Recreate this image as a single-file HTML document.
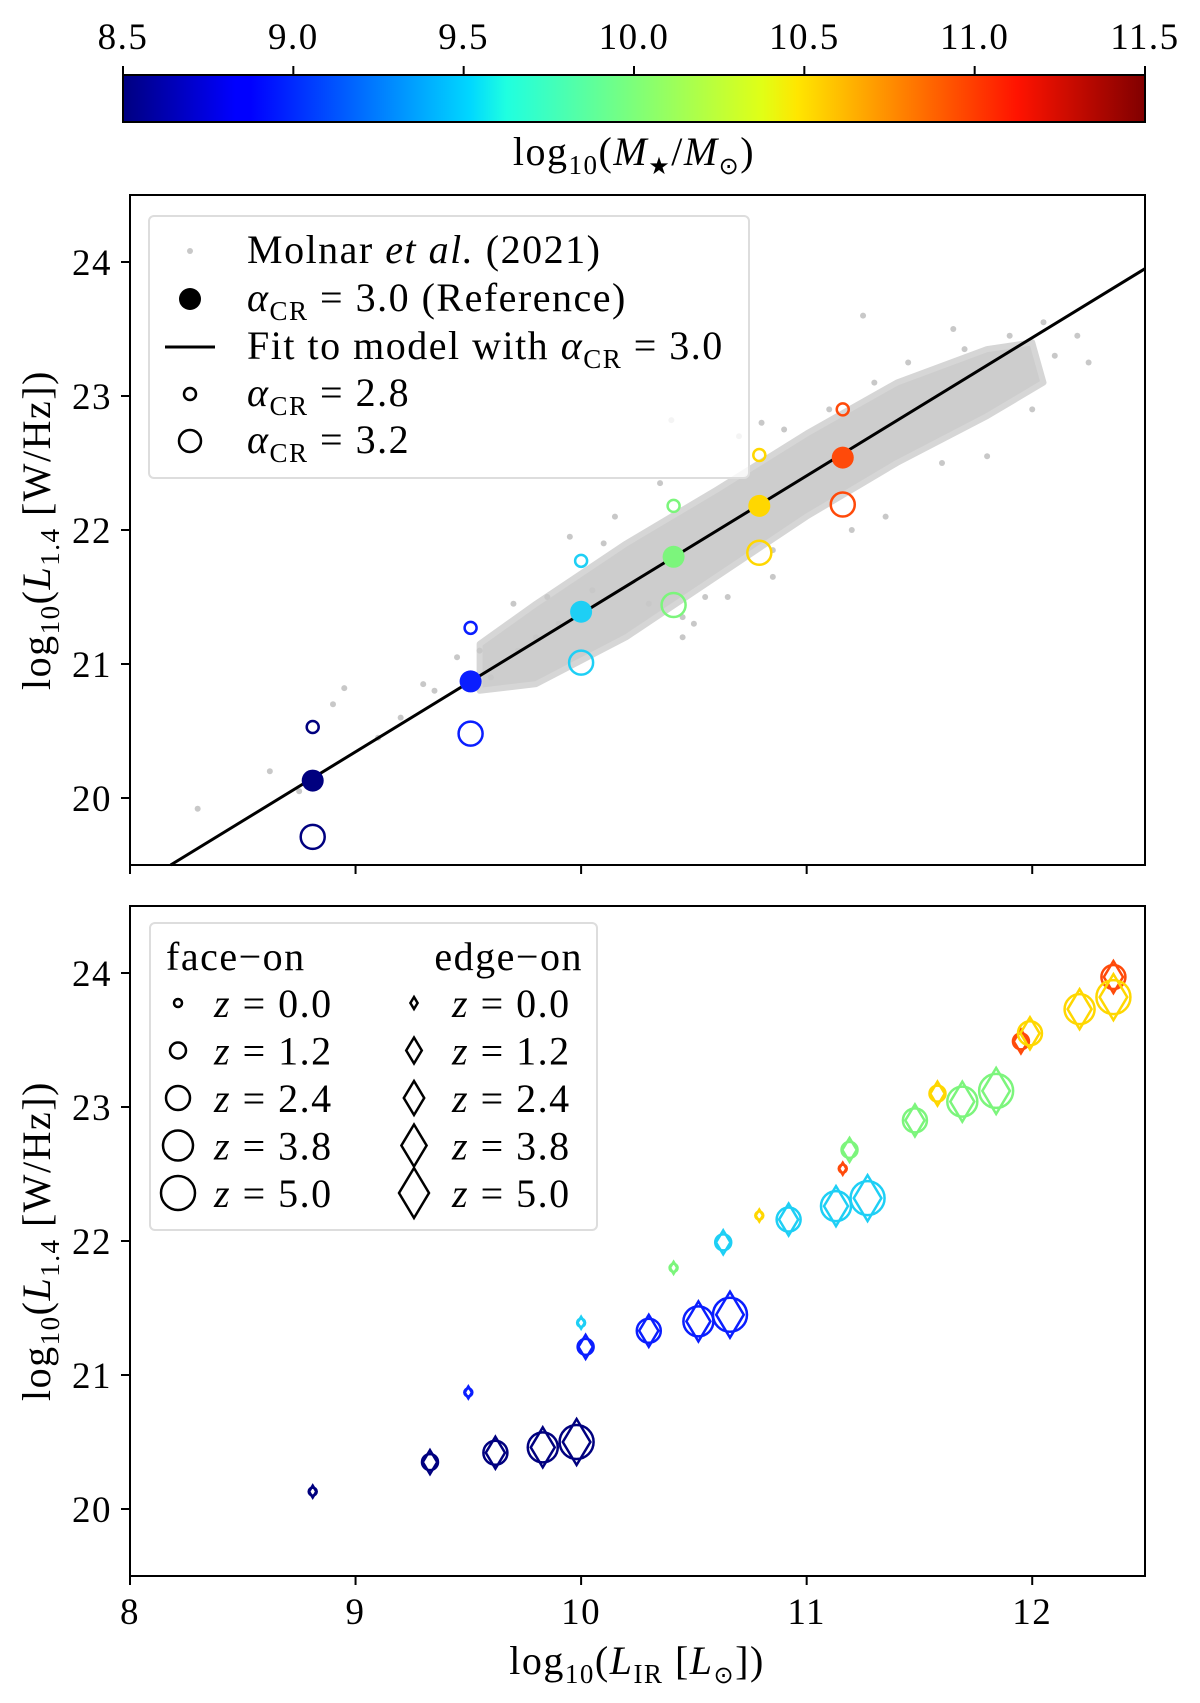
<!DOCTYPE html>
<html><head><meta charset="utf-8">
<style>
html,body{margin:0;padding:0;background:#fff;}
svg{display:block;font-family:"Liberation Serif",serif;}
.t{letter-spacing:1.5px;}
</style></head>
<body>
<svg id="fig" width="1200" height="1703" viewBox="0 0 1200 1703" xmlns="http://www.w3.org/2000/svg">
<defs>
<linearGradient id="jet" x1="0" x2="1" y1="0" y2="0">
<stop offset="0" stop-color="#000080"/>
<stop offset="0.11" stop-color="#0000ff"/>
<stop offset="0.125" stop-color="#0000ff"/>
<stop offset="0.34" stop-color="#00d8ff"/>
<stop offset="0.375" stop-color="#1fffe0"/>
<stop offset="0.5" stop-color="#7dff7a"/>
<stop offset="0.625" stop-color="#e0ff16"/>
<stop offset="0.66" stop-color="#ffe600"/>
<stop offset="0.875" stop-color="#ff1300"/>
<stop offset="1" stop-color="#800000"/>
</linearGradient>
</defs>
<g id="cbar">
<rect x="123" y="75" width="1022" height="47" fill="url(#jet)" stroke="#000" stroke-width="2"/>
</g>
<text class="t" x="634" y="165" font-size="40" text-anchor="middle">log<tspan font-size="27" dy="9">10</tspan><tspan dy="-9">(</tspan><tspan font-style="italic">M</tspan><tspan font-size="24" dy="9">★</tspan><tspan dy="-9">/</tspan><tspan font-style="italic">M</tspan><tspan font-size="24" dy="9">⊙</tspan><tspan dy="-9">)</tspan></text>

<g id="top"></g>
<g id="bot"></g>

<text class="t" transform="translate(50,530) rotate(-90)" font-size="40" text-anchor="middle">log<tspan font-size="27" dy="9">10</tspan><tspan dy="-9">(</tspan><tspan font-style="italic">L</tspan><tspan font-size="27" dy="9">1.4</tspan><tspan dy="-9"> [W/Hz])</tspan></text>
<text class="t" transform="translate(50,1241) rotate(-90)" font-size="40" text-anchor="middle">log<tspan font-size="27" dy="9">10</tspan><tspan dy="-9">(</tspan><tspan font-style="italic">L</tspan><tspan font-size="27" dy="9">1.4</tspan><tspan dy="-9"> [W/Hz])</tspan></text>
<text class="t" x="637" y="1674" font-size="40" text-anchor="middle">log<tspan font-size="27" dy="9">10</tspan><tspan dy="-9">(</tspan><tspan font-style="italic">L</tspan><tspan font-size="27" dy="9">IR</tspan><tspan dy="-9"> [</tspan><tspan font-style="italic">L</tspan><tspan font-size="24" dy="9">⊙</tspan><tspan dy="-9">])</tspan></text>
</svg>
<script>
const NS="http://www.w3.org/2000/svg";
// ---------- data ----------
const cbarTicks=[8.5,9.0,9.5,10.0,10.5,11.0,11.5];
const xTicks=[8,9,10,11,12];
const yTicks=[20,21,22,23,24];
const massColors=["#00007f","#0a1eff","#1ecff5","#7cf57c","#ffd700","#ff4a0a"];
const refX=[8.81,9.51,10.0,10.41,10.79,11.16];
const refY=[20.13,20.87,21.39,21.80,22.18,22.54];
const lowY=[20.53,21.27,21.77,22.18,22.56,22.90];
const highY=[19.71,20.48,21.01,21.44,21.83,22.19];
const fitX=[8.18,12.5];
const fitY=[19.5,23.95];
const cloudX=[9.55,9.8,10.2,10.6,11.0,11.4,11.8,12.0,12.05,11.8,11.4,11.0,10.6,10.2,9.8,9.55];
const cloudY=[21.15,21.45,21.9,22.3,22.72,23.1,23.35,23.4,23.1,22.85,22.5,22.1,21.65,21.2,20.85,20.8];
const grayX=[8.3,8.62,8.75,8.9,8.95,9.1,9.2,9.3,9.35,9.45,9.55,9.6,9.7,9.72,9.8,9.85,9.9,9.95,10.05,10.1,10.15,10.3,10.35,10.45,10.5,10.55,10.65,10.7,10.85,10.9,11.1,11.2,11.3,11.35,11.45,11.6,11.7,11.8,11.9,12.0,12.05,12.1,11.65,11.25,10.85,10.45,10.4,10.8,12.2,12.25];
const grayY=[19.92,20.2,20.05,20.7,20.82,20.45,20.6,20.85,20.8,21.05,21.1,20.9,21.45,21.1,21.2,21.5,21.3,21.95,21.55,21.9,22.1,21.45,22.35,21.35,21.3,21.5,21.5,22.7,21.85,22.75,22.9,22.0,23.1,22.1,23.25,22.5,23.35,22.55,23.45,22.9,23.55,23.3,23.5,23.6,21.65,21.2,22.82,22.8,23.45,23.25];
// bottom panel: per mass bin, per redshift
const botX=[[8.81,9.33,9.62,9.83,9.98],[9.50,10.02,10.30,10.52,10.66],[10.0,10.63,10.92,11.13,11.27],[10.41,11.19,11.48,11.69,11.84],[10.79,11.58,11.99,12.21,12.36],[11.16,11.95,12.36]];
const botY=[[20.13,20.35,20.42,20.46,20.50],[20.87,21.21,21.33,21.40,21.45],[21.39,21.99,22.16,22.26,22.32],[21.80,22.68,22.90,23.04,23.12],[22.19,23.10,23.55,23.73,23.82],[22.54,23.49,23.97]];
const zLabels=["0.0","1.2","2.4","3.8","5.0"];
// ---------- axes ----------
const X0=130,X1=1145;
const xs=v=>X0+(v-8)*(X1-X0)/4.5;
const cbx=v=>123+(v-8.5)*(1022/3);
const ysTop=v=>865-(v-19.5)*134;
const ysBot=v=>1576-(v-19.5)*134;
const svg=document.getElementById('fig');
function mk(tag,attrs,parent){const e=document.createElementNS(NS,tag);for(const k in attrs)e.setAttribute(k,attrs[k]);(parent||svg).appendChild(e);return e;}
function txt(s,x,y,size,anchor,parent){const t=mk('text',{x:x,y:y,'font-size':size,'text-anchor':anchor||'middle','class':'t'},parent);t.textContent=s;return t;}
// colorbar ticks
const cb=document.getElementById('cbar');
cbarTicks.forEach(v=>{
 const l=mk('line',{x1:cbx(v),x2:cbx(v),y1:75,y2:66,stroke:'#000','stroke-width':2},cb);
 
 
 const t=txt(v.toFixed(1),cbx(v),49,37,'middle',cb);
 
 
});
function panel(g,ys,top,bottom,showXLabels){
 xTicks.forEach(v=>{
  const l=mk('line',{x1:xs(v),x2:xs(v),y1:bottom,y2:bottom+9,stroke:'#000','stroke-width':2},g);
  
  
  if(showXLabels){const t=txt(String(v),xs(v),1624,37,'middle',g);
  
  }
 });
 yTicks.forEach(v=>{
  const l=mk('line',{x1:X0,x2:X0-9,y1:ys(v),y2:ys(v),stroke:'#000','stroke-width':2},g);
  
  
  const t=txt(String(v),X0-18,ys(v)+13,37,'end',g);
  
  
 });
}
// ---------- top panel ----------
const gt=document.getElementById('top');
const cl=mk('polygon',{points:cloudX.map((x,i)=>xs(x)+','+ysTop(cloudY[i])).join(' '),fill:'#cdcdcd',stroke:'#d6d6d6','stroke-width':6,'stroke-linejoin':'round'},gt);


grayX.forEach((x,i)=>{const c=mk('circle',{cx:xs(x),cy:ysTop(grayY[i]),r:3,fill:'#c8c8c8'},gt);
 
 });
const fl=mk('line',{x1:xs(fitX[0]),y1:ysTop(fitY[0]),x2:xs(fitX[1]),y2:ysTop(fitY[1]),stroke:'#000','stroke-width':3},gt);


refX.forEach((x,i)=>{
 const a=mk('circle',{cx:xs(x),cy:ysTop(lowY[i]),r:6,fill:'none',stroke:massColors[i],'stroke-width':2.5},gt);
 
 
 const b=mk('circle',{cx:xs(x),cy:ysTop(highY[i]),r:12,fill:'none',stroke:massColors[i],'stroke-width':2.5},gt);
 
 
 const c=mk('circle',{cx:xs(x),cy:ysTop(refY[i]),r:11,fill:massColors[i]},gt);
 
 
});
// top legend
const lg=mk('g',{},gt);


mk('rect',{x:149,y:216,width:600,height:262,rx:5,fill:'#fff','fill-opacity':0.8,stroke:'#ddd','stroke-width':2},lg);
mk('circle',{cx:190,cy:251,r:3,fill:'#c8c8c8'},lg);
mk('circle',{cx:190,cy:299,r:11,fill:'#000'},lg);
mk('line',{x1:165,x2:215,y1:347,y2:347,stroke:'#000','stroke-width':3},lg);
mk('circle',{cx:190,cy:394,r:6,fill:'none',stroke:'#000','stroke-width':2.5},lg);
mk('circle',{cx:190,cy:441,r:11,fill:'none',stroke:'#000','stroke-width':2.5},lg);
lg.insertAdjacentHTML('beforeend',
 '<text class="t" x="247" y="263" font-size="40">Molnar <tspan font-style="italic">et al.</tspan> (2021)</text>'+
 '<text class="t" x="247" y="311" font-size="40"><tspan font-style="italic">α</tspan><tspan font-size="27" dy="9">CR</tspan><tspan dy="-9"> = 3.0 (Reference)</tspan></text>'+
 '<text class="t" x="247" y="359" font-size="40">Fit to model with <tspan font-style="italic">α</tspan><tspan font-size="27" dy="9">CR</tspan><tspan dy="-9"> = 3.0</tspan></text>'+
 '<text class="t" x="247" y="406" font-size="40"><tspan font-style="italic">α</tspan><tspan font-size="27" dy="9">CR</tspan><tspan dy="-9"> = 2.8</tspan></text>'+
 '<text class="t" x="247" y="453" font-size="40"><tspan font-style="italic">α</tspan><tspan font-size="27" dy="9">CR</tspan><tspan dy="-9"> = 3.2</tspan></text>');
mk('rect',{x:X0,y:195,width:X1-X0,height:670,fill:'none',stroke:'#000','stroke-width':2},gt);
panel(gt,ysTop,195,865,false);
// ---------- bottom panel ----------
const gb=document.getElementById('bot');
const circR=[4,8,12,15,17];
const diaH=[6,13,17,21,25];
const plotDiaH=[6,12,16,20,23];
function diamond(cx,cy,h,col,parent){return mk('polygon',{points:[cx+','+(cy-h),(cx+0.6*h)+','+cy,cx+','+(cy+h),(cx-0.6*h)+','+cy].join(' '),fill:'none',stroke:col,'stroke-width':2.5},parent);}
for(let m=botX.length-1;m>=0;m--){
 botX[m].forEach((x,z)=>{
  const px=xs(x),py=ysBot(botY[m][z]);
  const c=mk('circle',{cx:px,cy:py,r:circR[z],fill:'none',stroke:massColors[m],'stroke-width':2.5},gb);
  
  
  const d=diamond(px,py,plotDiaH[z],massColors[m],gb);
  
  
 });
}
const bl=mk('g',{},gb);


mk('rect',{x:150,y:923,width:447,height:307,rx:5,fill:'#fff','fill-opacity':0.8,stroke:'#ddd','stroke-width':2},bl);
txt('face−on',166,970,40,'start',bl);
txt('edge−on',583,970,40,'end',bl);
zLabels.forEach((s,i)=>{
 const cy=1003+i*47.5;
 mk('circle',{cx:178,cy:cy,r:circR[i],fill:'none',stroke:'#000','stroke-width':2.5},bl);
 diamond(414,cy,diaH[i],'#000',bl);
 bl.insertAdjacentHTML('beforeend','<text class="t" x="214" y="'+(cy+14)+'" font-size="40"><tspan font-style="italic">z</tspan> = '+s+'</text>');
 bl.insertAdjacentHTML('beforeend','<text class="t" x="452" y="'+(cy+14)+'" font-size="40"><tspan font-style="italic">z</tspan> = '+s+'</text>');
});
mk('rect',{x:X0,y:906,width:X1-X0,height:670,fill:'none',stroke:'#000','stroke-width':2},gb);
panel(gb,ysBot,906,1576,true);
</script>
</body></html>
